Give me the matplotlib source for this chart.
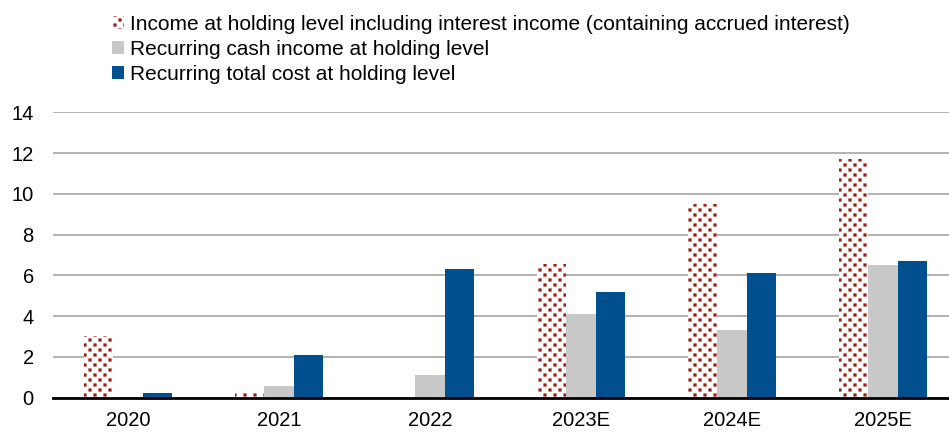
import matplotlib
matplotlib.use("Agg")
import matplotlib.pyplot as plt
import matplotlib.hatch as mhatch
from matplotlib.path import Path
import numpy as np
from matplotlib.patches import Patch

plt.rcParams['font.family'] = ['Liberation Sans', 'DejaVu Sans']
plt.rcParams['hatch.linewidth'] = 0.3


# Checkerboard grid of small filled squares (Excel-like dotted fill)
class SquareCheckerHatch(mhatch.HatchPatternBase):
    half = 0.0135

    def __init__(self, hatch, density):
        self.n = 20 if '.' in hatch else 0
        if self.n:
            self.centers = [(j / self.n, i / self.n)
                            for i in range(self.n + 1) for j in range(self.n + 1)
                            if (i + j) % 2 == 0]
        else:
            self.centers = []
        self.num_vertices = 5 * len(self.centers)

    def set_vertices_and_codes(self, vertices, codes):
        h = self.half
        sq = np.array([[-h, -h], [h, -h], [h, h], [-h, h], [-h, -h]])
        sc = [Path.MOVETO, Path.LINETO, Path.LINETO, Path.LINETO, Path.CLOSEPOLY]
        for k, (cx, cy) in enumerate(self.centers):
            vertices[5 * k:5 * k + 5] = sq + [cx, cy]
            codes[5 * k:5 * k + 5] = sc


mhatch._hatch_types[:] = [SquareCheckerHatch if t is mhatch.SmallFilledCircles else t
                          for t in mhatch._hatch_types]

categories = ["2020", "2021", "2022", "2023E", "2024E", "2025E"]
income_incl_interest = [3.0, 0.2, 0.0, 6.55, 9.5, 11.7]
recurring_cash_income = [0.0, 0.55, 1.1, 4.1, 3.3, 6.5]
recurring_total_cost = [0.2, 2.1, 6.3, 5.2, 6.1, 6.7]
series_names = [
    "Income at holding level including interest income (containing accrued interest)",
    "Recurring cash income at holding level",
    "Recurring total cost at holding level",
]
yticks = [0, 2, 4, 6, 8, 10, 12, 14]

red = "#A01E14"
gray = "#C8C8C8"
blue = "#00508F"

fig = plt.figure(figsize=(9.49, 4.32), dpi=100)
ax = fig.add_axes([52.5 / 949, 1 - 397.5 / 432, 906 / 949, (397.5 - 112.3) / 432])

x = np.arange(len(categories))
w = 0.194
ax.bar(x - w, income_incl_interest, w, facecolor="white", edgecolor=red,
       hatch=".", linewidth=0, zorder=3)
ax.bar(x, recurring_cash_income, w, color=gray, linewidth=0, zorder=3)
ax.bar(x + w, recurring_total_cost, w, color=blue, linewidth=0, zorder=3)

ax.set_xlim(-0.5, len(categories) - 0.5)
ax.set_ylim(0, 14)
ax.set_yticks(yticks)
ax.set_xticks(x)
ax.set_xticklabels(categories)
ax.tick_params(axis="both", length=0, labelsize=14.5, colors="black")
ax.tick_params(axis="x", pad=10)
ax.tick_params(axis="y", pad=13.5)
ax.yaxis.grid(True, color="#A6A6A6", linewidth=1.2, zorder=0)
ax.set_axisbelow(True)
for s in ["left", "right", "top"]:
    ax.spines[s].set_visible(False)
ax.spines["bottom"].set_color("black")
ax.spines["bottom"].set_linewidth(2)
ax.spines["bottom"].set_zorder(4)

handles = [
    Patch(facecolor="white", edgecolor=red, hatch=".", linewidth=0),
    Patch(facecolor=gray, linewidth=0),
    Patch(facecolor=blue, linewidth=0),
]
fig.legend(handles, series_names, loc="upper left", bbox_to_anchor=(97 / 949, 1.0),
           frameon=False, fontsize=15, handlelength=0.6, handleheight=0.6,
           handletextpad=0.3, labelspacing=0.3, borderaxespad=0.3)

fig.savefig("out.png", dpi=100)
